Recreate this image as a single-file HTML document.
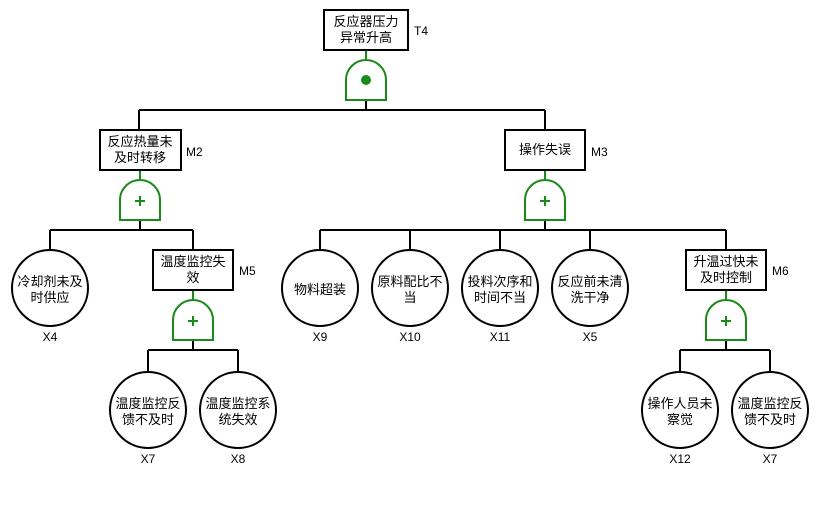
<!DOCTYPE html>
<html><head><meta charset="utf-8"><style>
body{margin:0;background:#fff;width:820px;height:510px;overflow:hidden}
svg text{font-family:"Liberation Sans","Noto Sans CJK SC",sans-serif;font-size:13px;fill:#000}
svg text.l{font-size:12px}
</style></head><body>
<svg width="820" height="510" viewBox="0 0 820 510" xmlns="http://www.w3.org/2000/svg">
<g stroke="#000" stroke-width="2" fill="none">
<line x1="366" y1="50" x2="366" y2="60" stroke="#1a8a1a"/>
<line x1="366" y1="100" x2="366" y2="110"/>
<line x1="139" y1="110" x2="545" y2="110"/>
<line x1="139" y1="110" x2="139" y2="130"/>
<line x1="545" y1="110" x2="545" y2="130"/>
<line x1="140" y1="170" x2="140" y2="180" stroke="#1a8a1a"/>
<line x1="140" y1="220" x2="140" y2="230"/>
<line x1="50" y1="230" x2="193" y2="230"/>
<line x1="50" y1="230" x2="50" y2="250"/>
<line x1="193" y1="230" x2="193" y2="250"/>
<line x1="193" y1="290" x2="193" y2="300" stroke="#1a8a1a"/>
<line x1="193" y1="340" x2="193" y2="350"/>
<line x1="148" y1="350" x2="238" y2="350"/>
<line x1="148" y1="350" x2="148" y2="372"/>
<line x1="238" y1="350" x2="238" y2="372"/>
<line x1="545" y1="170" x2="545" y2="180" stroke="#1a8a1a"/>
<line x1="545" y1="220" x2="545" y2="230"/>
<line x1="320" y1="230" x2="726" y2="230"/>
<line x1="320" y1="230" x2="320" y2="250"/>
<line x1="410" y1="230" x2="410" y2="250"/>
<line x1="500" y1="230" x2="500" y2="250"/>
<line x1="590" y1="230" x2="590" y2="250"/>
<line x1="726" y1="230" x2="726" y2="250"/>
<line x1="726" y1="290" x2="726" y2="300" stroke="#1a8a1a"/>
<line x1="726" y1="340" x2="726" y2="350"/>
<line x1="680" y1="350" x2="770" y2="350"/>
<line x1="680" y1="350" x2="680" y2="372"/>
<line x1="770" y1="350" x2="770" y2="372"/>
</g>
<g stroke="#000" stroke-width="2" fill="#fff">
<rect x="324" y="10" width="84" height="40"/>
<rect x="100" y="130" width="81" height="40"/>
<rect x="153" y="250" width="80" height="40"/>
<rect x="505" y="130" width="80" height="40"/>
<rect x="686" y="250" width="80" height="40"/>
<circle cx="50" cy="288" r="38"/>
<circle cx="320" cy="288" r="38"/>
<circle cx="410" cy="288" r="38"/>
<circle cx="500" cy="288" r="38"/>
<circle cx="590" cy="288" r="38"/>
<circle cx="148" cy="410" r="38"/>
<circle cx="238" cy="410" r="38"/>
<circle cx="680" cy="410" r="38"/>
<circle cx="770" cy="410" r="38"/>
</g>
<g stroke="#1a8a1a" stroke-width="2" fill="#fff">
<path d="M346 100 L346 80 A20 20 0 0 1 386 80 L386 100 Z"/>
<path d="M120 220 L120 200 A20 20 0 0 1 160 200 L160 220 Z"/>
<path d="M173 340 L173 320 A20 20 0 0 1 213 320 L213 340 Z"/>
<path d="M525 220 L525 200 A20 20 0 0 1 565 200 L565 220 Z"/>
<path d="M706 340 L706 320 A20 20 0 0 1 746 320 L746 340 Z"/>
</g>
<circle cx="366" cy="80" r="5" fill="#1a8a1a"/>
<g stroke="#1a8a1a" stroke-width="2">
<line x1="135" y1="201" x2="145" y2="201"/><line x1="140" y1="196" x2="140" y2="206"/>
<line x1="188" y1="321" x2="198" y2="321"/><line x1="193" y1="316" x2="193" y2="326"/>
<line x1="540" y1="201" x2="550" y2="201"/><line x1="545" y1="196" x2="545" y2="206"/>
<line x1="721" y1="321" x2="731" y2="321"/><line x1="726" y1="316" x2="726" y2="326"/>
</g>
<g text-anchor="middle">
<text x="366" y="26">反应器压力</text><text x="366" y="42">异常升高</text>
<text x="140" y="146">反应热量未</text><text x="140" y="162">及时转移</text>
<text x="193" y="266">温度监控失</text><text x="193" y="282">效</text>
<text x="545" y="154">操作失误</text>
<text x="726" y="266">升温过快未</text><text x="726" y="282">及时控制</text>
<text x="50" y="286">冷却剂未及</text><text x="50" y="302">时供应</text>
<text x="320" y="294">物料超装</text>
<text x="410" y="286">原料配比不</text><text x="410" y="302">当</text>
<text x="500" y="286">投料次序和</text><text x="500" y="302">时间不当</text>
<text x="590" y="286">反应前未清</text><text x="590" y="302">洗干净</text>
<text x="148" y="408">温度监控反</text><text x="148" y="424">馈不及时</text>
<text x="238" y="408">温度监控系</text><text x="238" y="424">统失效</text>
<text x="680" y="408">操作人员未</text><text x="680" y="424">察觉</text>
<text x="770" y="408">温度监控反</text><text x="770" y="424">馈不及时</text>
<text class="l" x="50" y="341">X4</text>
<text class="l" x="320" y="341">X9</text>
<text class="l" x="410" y="341">X10</text>
<text class="l" x="500" y="341">X11</text>
<text class="l" x="590" y="341">X5</text>
<text class="l" x="148" y="463">X7</text>
<text class="l" x="238" y="463">X8</text>
<text class="l" x="680" y="463">X12</text>
<text class="l" x="770" y="463">X7</text>
</g>
<text class="l" x="414" y="35">T4</text>
<text class="l" x="186" y="156">M2</text>
<text class="l" x="239" y="275">M5</text>
<text class="l" x="591" y="156">M3</text>
<text class="l" x="772" y="275">M6</text>
</svg>
</body></html>
